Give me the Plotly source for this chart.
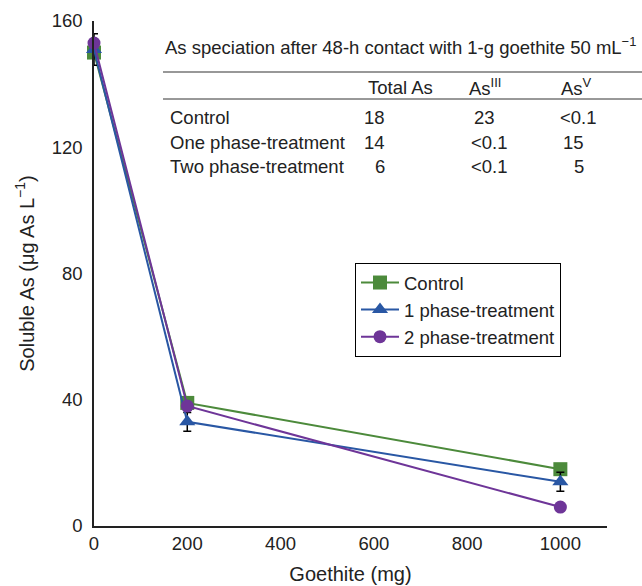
import plotly.graph_objects as go

goethite = [0, 200, 1000]
control = [150, 39, 18]
one_phase = [151, 33, 14]
one_phase_err = [5, 3, 3]
two_phase = [153, 38, 6]

x_ticks = [0, 200, 400, 600, 800, 1000]
y_ticks = [0, 40, 80, 120, 160]

table_title = "As speciation after 48-h contact with 1-g goethite 50 mL<sup>\u22121</sup>"
table_header = ["Total As", "As<sup>III</sup>", "As<sup>V</sup>"]
table_rows = ["Control", "One phase-treatment", "Two phase-treatment"]
table_total = ["18", "14", "6"]
table_as3 = ["23", "<0.1", "<0.1"]
table_as5 = ["<0.1", "15", "5"]

GREEN = "#4C8A3B"
BLUE = "#2957A4"
PURPLE = "#6E3598"
FONT = "Liberation Sans, Arial, sans-serif"
FS = 18.5

fig = go.Figure()
fig.add_trace(go.Scatter(x=goethite, y=control, name="Control", mode="lines+markers",
                         line=dict(color=GREEN, width=2),
                         marker=dict(symbol="square", size=14, color=GREEN),
                         legendgroup="a", cliponaxis=False))
fig.add_trace(go.Scatter(x=goethite, y=one_phase, name="1 phase-treatment", mode="lines+markers",
                         line=dict(color=BLUE, width=2),
                         marker=dict(symbol="triangle-up", size=14, color=BLUE),
                         error_y=dict(type="data", array=one_phase_err, color="black", thickness=1.5, width=4),
                         legendgroup="b", cliponaxis=False))
fig.add_trace(go.Scatter(x=goethite, y=two_phase, name="2 phase-treatment", mode="lines+markers",
                         line=dict(color=PURPLE, width=2),
                         marker=dict(symbol="circle", size=13, color=PURPLE),
                         legendgroup="c", cliponaxis=False))

L, R, T, B = 94, 35, 21, 60
W, H = 642, 586
pw, ph = W - L - R, H - T - B

def px(xp):
    return (xp - L) / pw

def py(yp):
    return (H - B - yp) / ph

ann = []
def txt(x, y, s, anchor="left", size=FS):
    ann.append(dict(x=px(x), y=py(y), xref="paper", yref="paper", text=s, showarrow=False,
                    xanchor=anchor, yanchor="middle", font=dict(size=size, color="#222", family=FONT)))

txt(400, 46, table_title, anchor="center")
txt(366, 87, table_header[0])
txt(467, 87, table_header[1])
txt(559, 87, table_header[2])
row_y = [118, 142, 166]
as3_pos = [(472, "left"), (469, "left"), (469, "left")]
as5_pos = [(558, "left"), (586, "right"), (586, "right")]
for i, r in enumerate(table_rows):
    txt(168, row_y[i], r)
    txt(387, row_y[i], table_total[i], anchor="right")
    txt(as3_pos[i][0], row_y[i], table_as3[i].replace("<", "&lt;"), anchor=as3_pos[i][1])
    txt(as5_pos[i][0], row_y[i], table_as5[i].replace("<", "&lt;"), anchor=as5_pos[i][1])

shapes = [
    dict(type="line", xref="paper", yref="paper", x0=px(163), x1=px(642), y0=py(72), y1=py(72),
         line=dict(color="#333", width=1.2)),
    dict(type="line", xref="paper", yref="paper", x0=px(163), x1=px(642), y0=py(99), y1=py(99),
         line=dict(color="#333", width=1)),
]

fig.update_layout(
    width=W, height=H,
    margin=dict(l=L, r=R, t=T, b=B),
    paper_bgcolor="white", plot_bgcolor="white",
    font=dict(family=FONT, size=FS, color="#222"),
    annotations=ann, shapes=shapes,
    legend=dict(x=px(355), y=py(263), xanchor="left", yanchor="top",
                bordercolor="black", borderwidth=1, bgcolor="white",
                font=dict(size=FS, family=FONT), tracegroupgap=0, itemwidth=38,
                entrywidth=172),
    xaxis=dict(range=[0, 1100], tickvals=x_ticks, showgrid=False, zeroline=False,
               showline=True, linecolor="#222", linewidth=1.5, ticks="", automargin=False,
               title=dict(text="Goethite (mg)", font=dict(size=20), standoff=14),
               tickfont=dict(size=FS)),
    yaxis=dict(range=[0, 160], tickvals=y_ticks, showgrid=False, zeroline=False,
               showline=True, linecolor="#222", linewidth=1.5, ticks="", automargin=False,
               ticklabelstandoff=6,
               title=dict(text="Soluble As (\u03bcg As L<sup>\u22121</sup>)", font=dict(size=20), standoff=12),
               tickfont=dict(size=FS)),
)

fig.write_html("out.html")
